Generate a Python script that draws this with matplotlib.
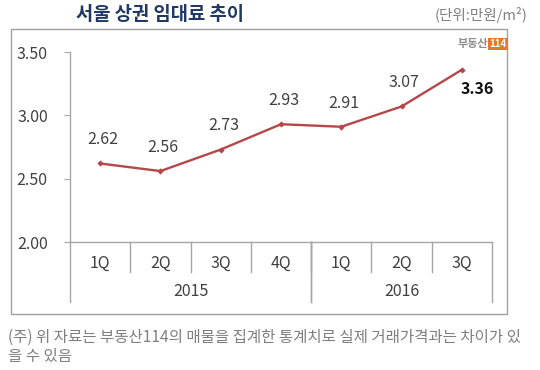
import matplotlib
matplotlib.use("Agg")
import matplotlib.pyplot as plt
from matplotlib.patches import Rectangle

plt.rcParams['font.family'] = ['Noto Sans CJK KR', 'DejaVu Sans']

# data
quarters = ["1Q", "2Q", "3Q", "4Q", "1Q", "2Q", "3Q"]
years = ["2015", "2016"]
year_spans = [(0, 4), (4, 7)]
rent = [2.62, 2.56, 2.73, 2.93, 2.91, 3.07, 3.36]
yticks = [2.00, 2.50, 3.00, 3.50]

grey = "#A6A6A6"
txt = "#404040"

fig = plt.figure(figsize=(5.4, 3.7), dpi=100)

# outer frame
fig.patches.append(Rectangle((0.0204, 0.1514), 0.9185, 0.770, transform=fig.transFigure,
                             fill=False, edgecolor="#A0A0A0", linewidth=1.0))

ax = fig.add_axes([0.1296, 0.3459, 0.7815, 0.5135])
xs = [i + 0.5 for i in range(len(rent))]
ax.plot(xs, rent, color="#B5474A", linewidth=1.7, marker="D", markersize=3.2,
        markeredgewidth=0, zorder=3)

for i, (x, v) in enumerate(zip(xs, rent)):
    if i == len(rent) - 1:
        ax.annotate(f"{v:.2f}", (x, v), xytext=(11, -14), textcoords="offset points",
                    ha="center", va="center", fontsize=11.5, fontweight="bold", color="#111111")
    else:
        ax.annotate(f"{v:.2f}", (x, v), xytext=(2, 17), textcoords="offset points",
                    ha="center", va="center", fontsize=11.5, color=txt)

ax.set_xlim(0, 7)
ax.set_ylim(2.0, 3.5)
ax.set_yticks(yticks)
ax.set_yticklabels([f"{t:.2f}" for t in yticks], fontsize=11.5, color=txt)
ax.set_xticks([])
ax.tick_params(axis="y", direction="out", length=4, color=grey, pad=12)
for s in ["top", "right"]:
    ax.spines[s].set_visible(False)
for s in ["left", "bottom"]:
    ax.spines[s].set_color(grey)
    ax.spines[s].set_linewidth(1.0)

# category axis: quarter and year rows
trans = ax.get_xaxis_transform()
for i, q in enumerate(quarters):
    ax.text(i + 0.5, -0.11, q, transform=trans, ha="center", va="center",
            fontsize=11.5, color=txt)
    if i > 0:
        ax.plot([i, i], [0, -0.158], transform=trans, color=grey, linewidth=1.0, clip_on=False)
for (a, b), y in zip(year_spans, years):
    ax.text((a + b) / 2, -0.263, y, transform=trans, ha="center", va="center",
            fontsize=11.5, color=txt)
    for e in (a, b):
        ax.plot([e, e], [0, -0.316], transform=trans, color=grey, linewidth=1.0, clip_on=False)

# title and unit
fig.text(160 / 540, 1 - 15 / 370, "서울 상권 임대료 추이", ha="center", va="center",
         fontsize=13.5, fontweight="bold", color="#1F3864")
fig.text(527 / 540, 1 - 15 / 370, "(단위:만원/m²)", ha="right", va="center",
         fontsize=10.5, color="#808080")

# logo
fig.text(488 / 540, 1 - 44 / 370, "부동산", ha="right", va="center",
         fontsize=8, fontweight="bold", color="#8C8C8C")
fig.text(498 / 540, 1 - 44 / 370, "114", ha="center", va="center", fontsize=7,
         fontweight="bold", color="white",
         bbox=dict(boxstyle="square,pad=0.15", facecolor="#E8772E", edgecolor="none"))

# footnote
fig.text(8 / 540, 1 - 337 / 370, "(주) 위 자료는 부동산114의 매물을 집계한 통계치로 실제 거래가격과는 차이가 있",
         ha="left", va="center", fontsize=11.2, color="#7F7F7F")
fig.text(8 / 540, 1 - 356 / 370, "을 수 있음", ha="left", va="center",
         fontsize=11.2, color="#7F7F7F")

fig.savefig("out.png", dpi=100)
